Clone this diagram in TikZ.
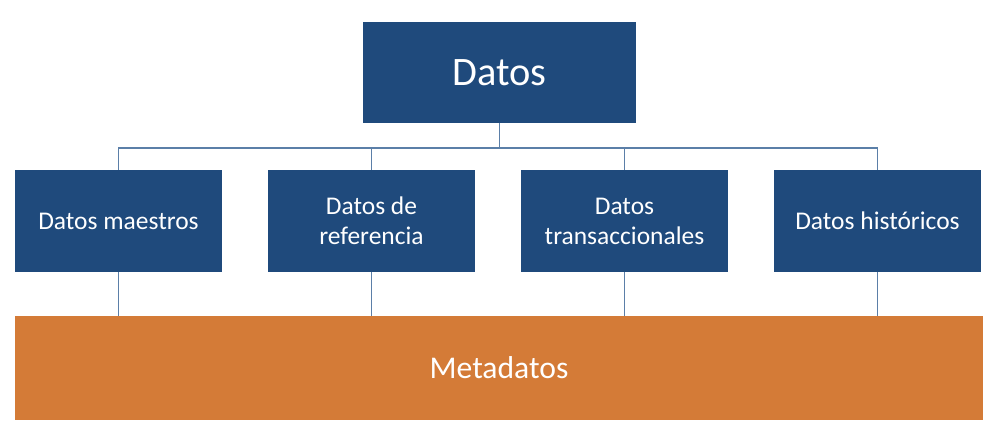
\documentclass[tikz,border=0pt]{standalone}
\usepackage{fontspec}
\setmainfont{Carlito}
\definecolor{dblue}{HTML}{1F4A7C}
\definecolor{orng}{HTML}{D47B37}
\definecolor{lnc}{HTML}{5B7FA8}
\begin{document}
\begin{tikzpicture}[x=0.02cm,y=-0.02cm,
  box/.style={fill=dblue,draw=none,text=white,align=center,inner sep=0pt,font=\fontsize{14.5}{17}\selectfont},
  ln/.style={draw=lnc,line width=0.8pt}]
\useasboundingbox (0,0) rectangle (1000,432);
\node[box,minimum width=273*0.02cm,minimum height=101*0.02cm,font=\fontsize{23}{27}\selectfont] (d) at (499.5,72.5) {Datos};
\node[box,minimum width=207*0.02cm,minimum height=102*0.02cm] (a) at (118.5,221) {Datos maestros};
\node[box,minimum width=207*0.02cm,minimum height=102*0.02cm] (b) at (371.5,221) {Datos de\\referencia};
\node[box,minimum width=207*0.02cm,minimum height=102*0.02cm] (c) at (624.5,221) {Datos\\transaccionales};
\node[box,minimum width=207*0.02cm,minimum height=102*0.02cm] (e) at (877.5,221) {Datos históricos};
\node[box,fill=orng,minimum width=968*0.02cm,minimum height=104*0.02cm,font=\fontsize{18}{21}\selectfont] (m) at (499,368) {Metadatos};
\coordinate (j) at (499.5,148);
\draw[ln] (d.south) -- (j);
\foreach \n in {a,b,c,e}{
  \draw[ln] (j) -| (\n.north);
  \draw[ln] (\n.south) -- (\n.south |- m.north);
}
\end{tikzpicture}
\end{document}
